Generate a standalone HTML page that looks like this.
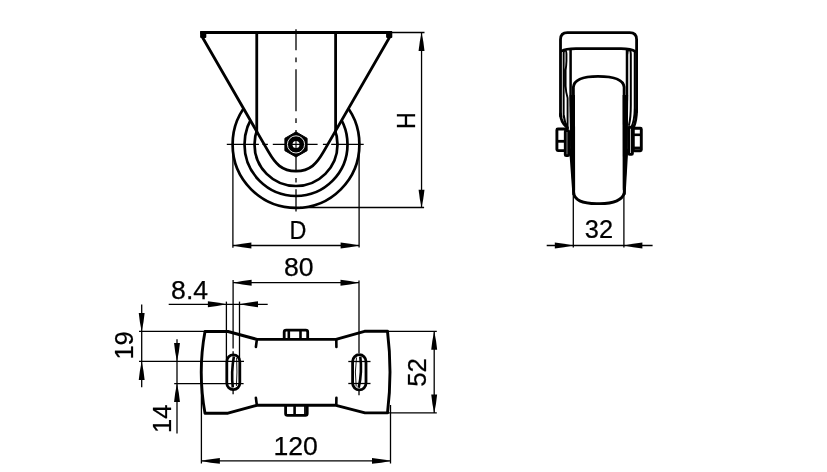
<!DOCTYPE html>
<html><head><meta charset="utf-8">
<style>
html,body{margin:0;padding:0;background:#fff;}
body{width:827px;height:472px;overflow:hidden;}
svg{display:block;will-change:transform;}
text{font-family:"Liberation Sans",sans-serif;fill:#000;stroke:#000;stroke-width:0.25px;}
</style></head>
<body>
<svg width="827" height="472" viewBox="0 0 827 472">
<rect width="827" height="472" fill="#fff"/>
<g fill="none" stroke="#000" stroke-width="2.7">
<circle cx="296" cy="144.5" r="63.4"/>
<circle cx="296" cy="144.5" r="51.5"/>
<circle cx="296" cy="144.5" r="41.5"/>
</g>
<path d="M200.0,33 L268.4,151.67 C275.24,163.54 281.65,171.09 296,171.09 C310.35,171.09 316.76,163.54 323.6,151.67 L392.0,33 Z" fill="#fff"/>
<g fill="none" stroke="#000" stroke-width="2.8" stroke-linejoin="round">
<path d="M202.29,37 L268.4,151.67 C275.24,163.54 281.65,171.09 296,171.09 C310.35,171.09 316.76,163.54 323.6,151.67 L389.71,37"/>
<line x1="256.75" y1="32.5" x2="256.75" y2="134"/>
<line x1="335.6" y1="32.5" x2="335.6" y2="134"/>
<line x1="200.3" y1="32.45" x2="391.8" y2="32.45" stroke-width="2.9"/>
</g>
<rect x="200.1" y="31" width="6.2" height="7" rx="1" fill="#000"/>
<rect x="386.1" y="31" width="6.2" height="7" rx="1" fill="#000"/>
<path d="M226.8,144.4 H258.9 M262.5,144.4 H267.9 M272.8,144.4 H317.6 M322.9,144.4 H327.6 M331.2,144.4 H363.7" stroke="#000" stroke-width="1.3" fill="none"/>
<path d="M296,29.2 V50.2 M296,57.6 V62.3 M296,69.3 V111.2 M296,118.2 V122.9 M296,129.9 V170.7 M296,178.1 V182.5 M296,189.2 V211.4" stroke="#000" stroke-width="1.3" fill="none"/>
<polygon points="296,131.9 307.1,138.3 307.1,150.7 296,157.0 284.9,150.7 284.9,138.3" fill="#000" stroke="#000" stroke-width="1" stroke-linejoin="round"/>
<circle cx="296" cy="144.4" r="8.6" fill="none" stroke="#fff" stroke-width="0.9"/>
<circle cx="296" cy="144.4" r="3.5" fill="#fff"/>
<path d="M291.5,144.4 H300.5 M296,139.9 V148.9" stroke="#000" stroke-width="1.1"/>
<line x1="391" y1="32.5" x2="424.5" y2="32.5" stroke="#000" stroke-width="1.3"/>
<line x1="300" y1="207.5" x2="424.1" y2="207.5" stroke="#000" stroke-width="1.3"/>
<line x1="421.55" y1="32.5" x2="421.55" y2="207.5" stroke="#000" stroke-width="1.3"/>
<path d="M421.55,32.50 Q423.62,41.75 424.50,51.00 L418.60,51.00 Q419.48,41.75 421.55,32.50 Z" fill="#000"/>
<path d="M421.55,207.50 Q419.48,198.65 418.60,189.80 L424.50,189.80 Q423.62,198.65 421.55,207.50 Z" fill="#000"/>
<text x="0" y="0" font-size="26.6" text-anchor="middle" transform="translate(415.2,120.75) rotate(-90) scale(0.87,1)">H</text>
<line x1="232.9" y1="144.5" x2="232.9" y2="247.8" stroke="#000" stroke-width="1.3"/>
<line x1="359.1" y1="144.5" x2="359.1" y2="247.6" stroke="#000" stroke-width="1.3"/>
<line x1="232.9" y1="245.5" x2="359.1" y2="245.5" stroke="#000" stroke-width="1.3"/>
<path d="M232.90,245.50 Q242.15,243.43 251.40,242.55 L251.40,248.45 Q242.15,247.57 232.90,245.50 Z" fill="#000"/>
<path d="M359.10,245.50 Q349.85,247.57 340.60,248.45 L340.60,242.55 Q349.85,243.43 359.10,245.50 Z" fill="#000"/>
<text x="0" y="0" font-size="26.6" text-anchor="middle" transform="translate(298,238.7) scale(0.88,1)">D</text>
<g fill="none" stroke="#000" stroke-width="2.8" stroke-linejoin="round" stroke-linecap="round">
<path d="M560.5,116 V39.5 Q560.5,32.6 567.4,32.6 H629.7 Q636.6,32.6 636.6,39.5 V112"/>
<path d="M561.5,51.2 Q565.5,48.6 576,48.6 H621 Q631,48.6 635.6,51.6" stroke-width="2.6"/>
<path d="M560.5,114 Q560.8,122 566.5,127"/>
<path d="M636.6,110 Q636.4,121 633.5,127.5"/>
<path d="M570.6,49.8 V95 L571.6,150" stroke-width="2.5"/>
<path d="M563.65,117 V54 Q563.7,50.6 565.05,50.6 Q566.4,50.6 566.45,54 V61 Q566.3,66 565.6,70 V86 Q565.8,92 567.6,98 V150" stroke-width="1.9"/>
<path d="M563.9,116 Q564.5,123 568,128" stroke-width="2.0"/>
<path d="M627.0,49.8 V95 L626.3,150" stroke-width="2.5"/>
<path d="M627.2,54 Q627.4,50 629,50 Q630.7,50 630.8,54 V105 Q630.8,118 629,125" stroke-width="2.0"/>
<path d="M634.7,51 V108 Q634.6,120 631.5,127" stroke-width="1.9"/>
<path d="M573.7,194 L573.4,87 Q574.5,76.4 598,76.4 Q623,76.4 624.1,87 L624.3,194"/>
<path d="M570.6,150 L573.7,193 Q575,204 598.2,203.6 Q621,204 624.3,193 L626.8,150"/>
</g>
<polygon points="569.6,95 575,95 575.1,190 572.6,190 570.2,150" fill="#000"/>
<polygon points="622.6,95 628.1,95 627.5,150 625.3,190 622.8,190" fill="#000"/>
<g fill="#fff" stroke="#000" stroke-width="2.9" stroke-linejoin="round">
<rect x="556.9" y="129" width="9.2" height="21.6" rx="1"/>
<rect x="565.3" y="130.6" width="3.4" height="25" rx="0.8"/>
<rect x="633.3" y="128.2" width="8" height="22.6" rx="1"/>
<rect x="628.8" y="127.2" width="3.6" height="27.2" rx="0.8"/>
</g>
<line x1="556.9" y1="141.3" x2="566" y2="141.3" stroke="#000" stroke-width="2.8"/>
<line x1="633.3" y1="134.8" x2="641.3" y2="134.8" stroke="#000" stroke-width="2.6"/>
<line x1="633.3" y1="147.9" x2="641.3" y2="147.9" stroke="#000" stroke-width="2.6"/>
<line x1="573.3" y1="194" x2="573.3" y2="247.6" stroke="#000" stroke-width="1.3"/>
<line x1="623.9" y1="194" x2="623.9" y2="247.6" stroke="#000" stroke-width="1.3"/>
<line x1="546.7" y1="245.5" x2="652.6" y2="245.5" stroke="#000" stroke-width="1.3"/>
<path d="M573.30,245.50 Q564.05,247.57 554.80,248.45 L554.80,242.55 Q564.05,243.43 573.30,245.50 Z" fill="#000"/>
<path d="M623.90,245.50 Q633.15,243.43 642.40,242.55 L642.40,248.45 Q633.15,247.57 623.90,245.50 Z" fill="#000"/>
<text x="0" y="0" font-size="26.6" text-anchor="middle" transform="translate(598.95,238) scale(0.955,1)">32</text>
<path d="M205,331.5 H228 L257,339.4 H336 L364.5,331.3 H387.5 Q392.5,372 387.5,412.9 H365 L336,405.3 H257 L228,413.2 H205 Q197.5,372 205,331.5 Z" fill="none" stroke="#000" stroke-width="2.9" stroke-linejoin="round"/>
<g stroke="#000" stroke-width="2.6" stroke-linecap="round">
<line x1="256.8" y1="340" x2="255.9" y2="347"/>
<line x1="336.3" y1="340" x2="336.4" y2="347"/>
<line x1="256.8" y1="404.8" x2="255.9" y2="397.8"/>
<line x1="336.3" y1="404.8" x2="336.4" y2="397.8"/>
</g>
<g fill="none" stroke="#000" stroke-width="2.8" stroke-linejoin="round">
<path d="M284.2,339.4 V332 Q284.2,330.1 286.2,330.1 H305.8 Q307.7,330.1 307.7,332 V339.4"/>
<path d="M285.6,405.3 V413.5 Q285.6,415.4 287.5,415.4 H305.4 Q307.2,415.4 307.2,413.5 V405.3"/>
</g>
<g stroke="#000" stroke-width="2.6">
<line x1="288.8" y1="330" x2="288.8" y2="339"/>
<line x1="300.5" y1="330" x2="300.5" y2="339"/>
<line x1="294.6" y1="405.5" x2="294.6" y2="415"/>
<line x1="305.0" y1="405.5" x2="305.0" y2="415" stroke-width="1.8"/>
</g>
<g fill="none" stroke="#000" stroke-width="2.8">
<rect x="226.8" y="354.9" width="13" height="34.8" rx="6.5"/>
<rect x="352.6" y="354.7" width="13.4" height="35.2" rx="6.7"/>
<path d="M233.9,356.5 Q231.0,372 232.8,387.5" stroke-width="2.6"/>
<path d="M360.3,356.6 Q362.3,372 358.7,387.7" stroke-width="2.6"/>
</g>
<path d="M236.6,358 Q237.4,372 236.4,386 M356.5,357.5 Q354.4,372 356.2,386.5" stroke="#000" stroke-width="0.9" fill="none"/>
<line x1="226.4" y1="301.6" x2="226.4" y2="360" stroke="#000" stroke-width="1.3"/>
<line x1="239.5" y1="301.6" x2="239.5" y2="360" stroke="#000" stroke-width="1.3"/>
<line x1="168.7" y1="304.3" x2="267.7" y2="304.3" stroke="#000" stroke-width="1.3"/>
<line x1="233.1" y1="280" x2="233.1" y2="348.6" stroke="#000" stroke-width="1.3"/>
<line x1="233.1" y1="351.2" x2="233.1" y2="355" stroke="#000" stroke-width="1.3"/>
<line x1="359" y1="280.5" x2="359" y2="353" stroke="#000" stroke-width="1.3"/>
<line x1="233.1" y1="282.7" x2="359" y2="282.7" stroke="#000" stroke-width="1.3"/>
<line x1="233.1" y1="390" x2="233.1" y2="394.3" stroke="#000" stroke-width="1.3"/>
<line x1="359" y1="390" x2="359" y2="395.3" stroke="#000" stroke-width="1.3"/>
<path d="M226.40,304.30 Q217.15,306.38 207.90,307.25 L207.90,301.35 Q217.15,302.23 226.40,304.30 Z" fill="#000"/>
<path d="M239.50,304.30 Q248.75,302.23 258.00,301.35 L258.00,307.25 Q248.75,306.38 239.50,304.30 Z" fill="#000"/>
<path d="M233.10,282.70 Q242.35,280.62 251.60,279.75 L251.60,285.65 Q242.35,284.77 233.10,282.70 Z" fill="#000"/>
<path d="M359.00,282.70 Q349.75,284.77 340.50,285.65 L340.50,279.75 Q349.75,280.62 359.00,282.70 Z" fill="#000"/>
<text x="0" y="0" font-size="26.6" text-anchor="middle" transform="translate(189.6,299) scale(1.0,1)">8.4</text>
<text x="0" y="0" font-size="26.6" text-anchor="middle" transform="translate(298.8,276) scale(1.0,1)">80</text>
<line x1="139" y1="331.4" x2="205" y2="331.4" stroke="#000" stroke-width="1.3"/>
<line x1="139" y1="361.4" x2="244" y2="361.4" stroke="#000" stroke-width="1.3"/>
<line x1="141.7" y1="304.5" x2="141.7" y2="387.2" stroke="#000" stroke-width="1.3"/>
<line x1="174.2" y1="383.6" x2="243.6" y2="383.6" stroke="#000" stroke-width="1.3"/>
<line x1="177" y1="339.3" x2="177" y2="433.6" stroke="#000" stroke-width="1.3"/>
<line x1="348.3" y1="361.5" x2="370.5" y2="361.5" stroke="#000" stroke-width="1.3"/>
<line x1="348.3" y1="383.5" x2="370.5" y2="383.5" stroke="#000" stroke-width="1.3"/>
<path d="M141.70,331.40 Q139.62,322.15 138.75,312.90 L144.65,312.90 Q143.77,322.15 141.70,331.40 Z" fill="#000"/>
<path d="M141.70,361.40 Q143.77,370.65 144.65,379.90 L138.75,379.90 Q139.62,370.65 141.70,361.40 Z" fill="#000"/>
<path d="M177.00,361.40 Q174.93,352.15 174.05,342.90 L179.95,342.90 Q179.07,352.15 177.00,361.40 Z" fill="#000"/>
<path d="M177.00,383.60 Q179.07,392.85 179.95,402.10 L174.05,402.10 Q174.93,392.85 177.00,383.60 Z" fill="#000"/>
<text x="0" y="0" font-size="26.6" text-anchor="middle" transform="translate(133.3,345.4) rotate(-90) scale(0.955,1)">19</text>
<text x="0" y="0" font-size="26.6" text-anchor="middle" transform="translate(170.9,418.8) rotate(-90) scale(0.96,1)">14</text>
<line x1="387" y1="331.3" x2="436.8" y2="331.3" stroke="#000" stroke-width="1.3"/>
<line x1="388" y1="412.9" x2="436.8" y2="412.9" stroke="#000" stroke-width="1.3"/>
<line x1="434.2" y1="331.3" x2="434.2" y2="412.9" stroke="#000" stroke-width="1.3"/>
<path d="M434.20,331.30 Q436.27,340.55 437.15,349.80 L431.25,349.80 Q432.12,340.55 434.20,331.30 Z" fill="#000"/>
<path d="M434.20,412.90 Q432.12,403.65 431.25,394.40 L437.15,394.40 Q436.27,403.65 434.20,412.90 Z" fill="#000"/>
<text x="0" y="0" font-size="26.6" text-anchor="middle" transform="translate(425.5,372.45) rotate(-90) scale(0.975,1)">52</text>
<line x1="201.4" y1="385" x2="201.4" y2="463.5" stroke="#000" stroke-width="1.3"/>
<line x1="390.5" y1="405" x2="390.5" y2="463.5" stroke="#000" stroke-width="1.3"/>
<line x1="201.4" y1="460.9" x2="390.5" y2="460.9" stroke="#000" stroke-width="1.3"/>
<path d="M201.40,460.90 Q210.65,458.82 219.90,457.95 L219.90,463.85 Q210.65,462.97 201.40,460.90 Z" fill="#000"/>
<path d="M390.50,460.90 Q381.25,462.97 372.00,463.85 L372.00,457.95 Q381.25,458.82 390.50,460.90 Z" fill="#000"/>
<text x="0" y="0" font-size="26.6" text-anchor="middle" transform="translate(295.6,455.3) scale(1.0,1)">120</text>
</svg>
</body></html>
